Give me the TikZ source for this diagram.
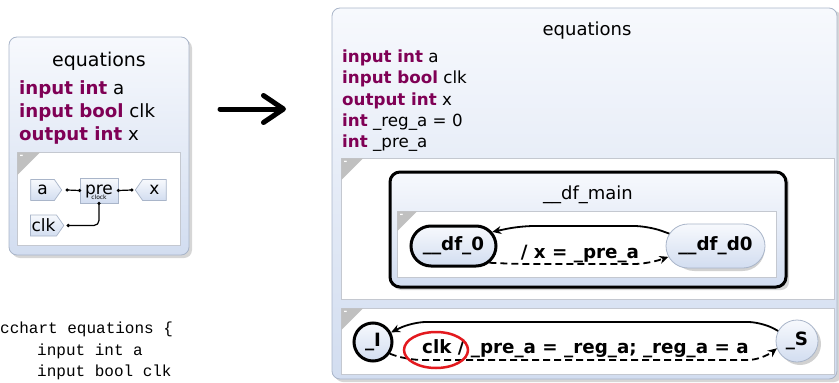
\documentclass[tikz,border=0pt]{standalone}
\usepackage{fontspec}
\setmainfont{DejaVu Sans}
\newfontfamily\codefont{Liberation Mono}
\usetikzlibrary{arrows.meta,shapes.misc,shapes.symbols}
\definecolor{kw}{HTML}{7F0055}
\definecolor{boxtop}{HTML}{F7F9FD}
\definecolor{boxbot}{HTML}{D2DDF0}
\definecolor{boxline}{HTML}{A9B5C9}
\definecolor{regline}{HTML}{C4C8D0}
\definecolor{trigray}{HTML}{C0C0C0}
\definecolor{redc}{HTML}{E3191E}
\newcommand{\fsz}[1]{\fontsize{#1}{#1}\selectfont}
\newcommand{\kw}[1]{\textcolor{kw}{\textbf{#1}}}
\tikzset{
  bluebox/.style={draw=boxline, line width=0.8pt, top color=boxtop, bottom color=boxbot, rounded corners=8pt},
  boxshadow/.style={fill=black!16, rounded corners=8pt},
  region/.style={draw=regline, fill=white, line width=0.8pt},
  corner/.style={fill=trigray},
  minus/.style={text=white, font=\fsz{9}\bfseries, inner sep=0pt},
  lbl/.style={inner sep=0pt, anchor=base west},
  port/.style={signal, draw=boxline, line width=0.7pt, top color=boxtop, bottom color=boxbot, minimum width=31pt, minimum height=21pt, signal pointer angle=110, inner sep=1pt, font=\fsz{17}},
  wire/.style={line width=1.2pt},
  state/.style={top color=boxtop, bottom color=boxbot, font=\fsz{18.3}\bfseries, inner sep=0pt},
  trans/.style={-{Stealth[length=9pt,width=8pt]}, line width=1.8pt, rounded corners=14pt},
  dashtrans/.style={trans, dash pattern=on 7pt off 4pt}
}
\begin{document}
\begin{tikzpicture}[x=1pt,y=-1pt]
\useasboundingbox (0,0) rectangle (839,383);
\clip (0,0) rectangle (839,383);

% ---------- left diagram ----------
\fill[boxshadow] (12,40) rectangle (192,258);
\draw[bluebox] (9,37) rectangle (189,255);
\node[inner sep=0pt, anchor=base, font=\fsz{19}] (ltitle) at (99,66) {equations};
\node[lbl, font=\fsz{18.2}] (l1) at (19,94) {\kw{input int} a};
\node[lbl, font=\fsz{18.2}] (l2) at (19,117) {\kw{input bool} clk};
\node[lbl, font=\fsz{18.2}] (l3) at (19,140) {\kw{output int} x};
\draw[region] (17,152) rectangle (180,245);
\fill[corner] (17.4,152.4) -- (40,152.4) -- (17.4,175) -- cycle;
\node[minus] (lm) at (21.5,157) {-};

\node[port, signal to=east] (pa) at (42.5,190) {a};
\node[port, signal to=west] (px) at (154.5,190) {x};
\node[port, signal to=east] (pclk) at (43.5,225.5) {clk};
\node[draw=boxline, line width=0.7pt, top color=boxtop, bottom color=boxbot, minimum width=38pt, minimum height=25pt, inner sep=0pt] (pre) at (99,190.5) {};
\node[inner sep=0pt, anchor=base, font=\fsz{17}] (pretxt) at (99,194) {pre};
\node[inner sep=0pt, font=\fsz{6}] (clocktxt) at (99,197.5) {clock};

\draw[wire] ([xshift=5pt]pa.east) -- (pre.west);
\fill ([xshift=5pt]pa.east) circle (1.8pt);
\fill (pre.west) circle (1.8pt);
\draw[wire] (pre.east) -- ([xshift=-3pt]px.west);
\fill (pre.east) circle (1.8pt);
\fill ([xshift=-3pt]px.west) circle (1.8pt);
\draw[wire, rounded corners=5pt] ([xshift=4pt]pclk.east) -| (pre.south);
\fill ([xshift=4pt]pclk.east) circle (1.8pt);
\fill (pre.south) circle (1.8pt);

% ---------- code ----------
\node[lbl, font=\codefont\fsz{16}] (c1) at (0,333) {cchart equations \{};
\node[lbl, font=\codefont\fsz{16}] (c2) at (37,355) {input int a};
\node[lbl, font=\codefont\fsz{16}] (c3) at (37,376) {input bool clk};
\node[lbl, font=\codefont\fsz{16}] (c4) at (37,397) {output int x};

% ---------- big arrow ----------
\coordinate (arrS) at (220,109);
\coordinate (arrE) at (286,109);
\draw[line width=5pt, line cap=round, -{Straight Barb[length=20pt, width=27pt, line width=5pt, line cap=round, line join=round]}] (arrS) -- (arrE);

% ---------- right diagram ----------
\fill[boxshadow] (335,11) rectangle (842,382);
\draw[bluebox] (332,8) rectangle (837,379);
\node[inner sep=0pt, anchor=base, font=\fsz{18}] (rtitle) at (587,35) {equations};
\node[lbl, font=\fsz{16.7}] (r1) at (342,62) {\kw{input int} a};
\node[lbl, font=\fsz{16.7}] (r2) at (342,83.5) {\kw{input bool} clk};
\node[lbl, font=\fsz{16.7}] (r3) at (342,105) {\kw{output int} x};
\node[lbl, font=\fsz{16.7}] (r4) at (342,126) {\kw{int} \_reg\_a = 0};
\node[lbl, font=\fsz{16.7}] (r5) at (342,147) {\kw{int} \_pre\_a};

% region 1
\draw[region] (341,158) rectangle (834,299);
\fill[corner] (341.4,158.4) -- (363,158.4) -- (341.4,180) -- cycle;
\node[minus] (rm1) at (345.5,163) {-};
\fill[boxshadow] (393,175) rectangle (789,290);
\draw[line width=3pt, rounded corners=10pt, top color=boxtop, bottom color=boxbot] (390,172) rectangle (786,287);
\node[inner sep=0pt, anchor=base, font=\fsz{18}] (dftitle) at (588,199) {\_\_df\_main};
\draw[region] (397,211) rectangle (776,277);
\fill[corner] (397.4,211.4) -- (417,211.4) -- (397.4,231) -- cycle;
\node[minus] (rm2) at (401.5,215.5) {-};

\node[rounded rectangle, fill=black!18, minimum width=99pt, minimum height=44pt] (dd0sh) at (718.5,249) {};
\node[state, rounded rectangle, draw=black, line width=3pt, minimum width=85pt, minimum height=40pt] (df0) at (453.5,246) {\_\_df\_0};
\node[state, rounded rectangle, draw=boxline, line width=0.8pt, minimum width=99pt, minimum height=44pt] (dd0) at (715.5,246) {\_\_df\_d0};
\draw[trans] (dd0.165) -- (648,226) -- (520,226) -- (df0.20);
\draw[dashtrans] (df0.-25) -- (518,264) -- (648,264) -- (dd0.193);
\node[inner sep=0pt, anchor=base, font=\fsz{18.3}\bfseries] (lab1) at (580,258) {/ x = \_pre\_a};

% region 2
\draw[region] (341,308) rectangle (834,374);
\fill[corner] (341.4,308.4) -- (363,308.4) -- (341.4,330) -- cycle;
\node[minus] (rm3) at (345.5,313) {-};
\node[circle, fill=black!18, minimum size=42pt, inner sep=0pt] (Ssh) at (800,344) {};
\node[state, circle, draw=black, line width=3pt, minimum size=38pt] (I) at (373,342) {\_I};
\node[state, circle, draw=boxline, line width=0.8pt, minimum size=42pt] (S) at (797,341) {\_S};
\draw[trans] (S.152) -- (762,322) -- (412,322) -- (I.28);
\draw[dashtrans] (I.-35) -- (408,360) -- (762,360) -- (S.200);
\node[lbl, font=\fsz{18.3}\bfseries] (lab2) at (422,353) {clk / \_pre\_a = \_reg\_a; \_reg\_a = a};
\draw[redc, line width=2.5pt] (436,350) ellipse [x radius=32pt, y radius=18pt];
\end{tikzpicture}
\end{document}
